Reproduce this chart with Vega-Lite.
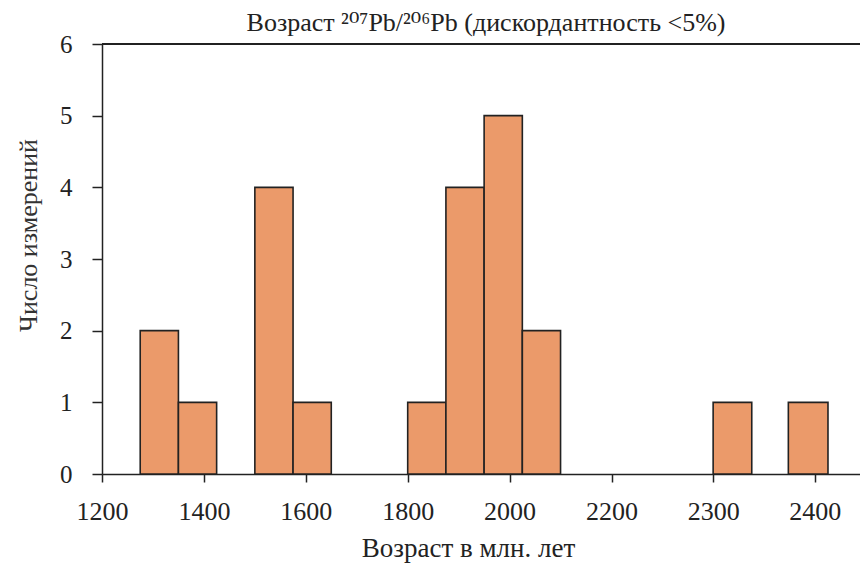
{
  "$schema": "https://vega.github.io/schema/vega-lite/v6.json",
  "width": 758,
  "height": 430,
  "autosize": "none",
  "padding": {"left": 102, "top": 44, "right": 0, "bottom": 90},
  "background": "white",
  "config": {"view": {"stroke": null}, "font": "Liberation Serif"},
  "title": {
    "text": "Возраст ²⁰⁷Pb/²⁰⁶Pb (дискордантность <5%)",
    "font": "Liberation Serif, DejaVu Serif",
    "fontSize": 26,
    "fontWeight": "normal",
    "color": "#222",
    "anchor": "middle",
    "offset": -4,
    "dx": 5
  },
  "data": {
    "values": [
      {"start": 1275, "end": 1350, "count": 2},
      {"start": 1350, "end": 1425, "count": 1},
      {"start": 1500, "end": 1575, "count": 4},
      {"start": 1575, "end": 1650, "count": 1},
      {"start": 1800, "end": 1875, "count": 1},
      {"start": 1875, "end": 1950, "count": 4},
      {"start": 1950, "end": 2025, "count": 5},
      {"start": 2025, "end": 2100, "count": 2},
      {"start": 2300, "end": 2338, "count": 1},
      {"start": 2374, "end": 2413, "count": 1}
    ]
  },
  "layer": [
    {
      "mark": {"type": "rect", "color": "#EB9A6A", "stroke": "#222", "strokeWidth": 1.6},
      "encoding": {
        "x": {
          "field": "start",
          "type": "quantitative",
          "scale": {"domain": [1200, 2200, 2444.5], "range": [0, 509.5, 758], "nice": false, "zero": false},
          "axis": {
            "values": [1200, 1400, 1600, 1800, 2000, 2200, 2300, 2400],
            "format": "d",
            "labelFlush": false,
            "title": "Возраст в млн. лет",
            "titleFont": "Liberation Serif",
            "titleFontSize": 27,
            "titleFontWeight": "normal",
            "titleColor": "#222",
            "titlePadding": 11,
            "titleX": 366,
            "labelFont": "Liberation Serif",
            "labelFontSize": 26,
            "labelColor": "#222",
            "labelPadding": 16,
            "tickSize": 8,
            "tickColor": "#222",
            "tickWidth": 1.5,
            "domainColor": "#222",
            "domainWidth": 1.5,
            "grid": false
          }
        },
        "x2": {"field": "end"},
        "y": {
          "field": "count",
          "type": "quantitative",
          "scale": {"domain": [0, 6], "nice": false},
          "axis": {
            "values": [0, 1, 2, 3, 4, 5, 6],
            "format": "d",
            "title": "Число измерений",
            "titleFont": "Liberation Serif",
            "titleFontSize": 26,
            "titleFontWeight": "normal",
            "titleColor": "#333",
            "titlePadding": 18,
            "titleY": 191,
            "labelFont": "Liberation Serif",
            "labelFontSize": 25,
            "labelColor": "#222",
            "labelPadding": 20,
            "tickSize": 10,
            "tickColor": "#222",
            "tickWidth": 1.5,
            "domainColor": "#222",
            "domainWidth": 1.5,
            "grid": false
          }
        },
        "y2": {"datum": 0}
      }
    },
    {
      "mark": {"type": "rule", "color": "#222", "strokeWidth": 1.5},
      "encoding": {"y": {"datum": 6}}
    }
  ]
}
